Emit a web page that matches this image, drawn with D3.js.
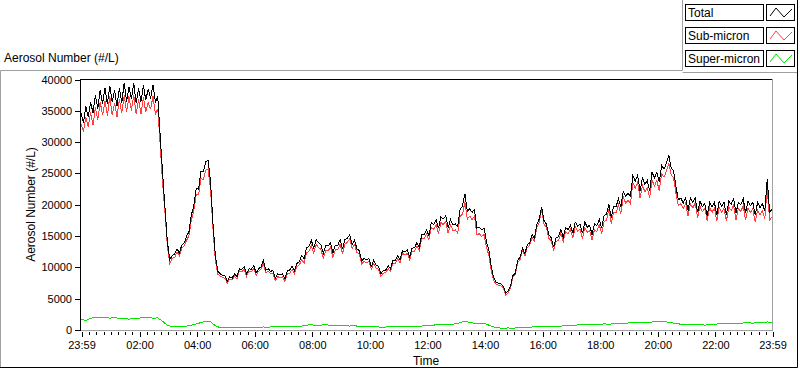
<!DOCTYPE html>
<html>
<head>
<meta charset="utf-8">
<script src="https://cdn.jsdelivr.net/npm/d3@7"></script>
<style>
body { margin: 0; background: #fff; }
svg { display: block; font-family: "Liberation Sans", Arial, sans-serif; }
</style>
</head>
<body>
<script>
//series names and colours for the legend
var seriesNames = ["Total", "Sub-micron", "Super-micron"];
var seriesColors = ["#000000", "#ff4040", "#00e400"];

//sample step (minutes after 23:59) for each series
var totalStep = 5, superStep = 10;

//total aerosol number (#/L), one value every 5 minutes from 23:59
var totalValues = [
  34500,33000,35600,33900,36300,34600,37400,35300,38300,36000,38600,36000,
  38900,36300,38200,35700,38600,36200,39400,36400,38700,36800,39300,36100,
  38500,36400,39000,36600,38400,36900,39100,36300,37200,31000,25000,19500,
  14000,11200,11800,12000,12900,12200,13500,13800,14900,15600,18300,19700,
  22500,22400,25300,25200,26800,27000,23500,17000,11800,9300,8900,8600,
  8600,7700,8400,8200,8900,8400,9700,9600,10000,8900,9700,9600,
  10200,9000,9700,10000,11100,9500,9700,9300,9400,8200,8900,8700,
  8900,8100,9400,9500,10100,9400,10550,10850,11800,11300,13000,13250,
  14250,12950,14350,13850,13550,12150,13450,13350,13850,12250,13450,13450,
  14350,12850,14350,14550,15150,13550,14250,12900,12600,10950,11350,11150,
  11350,10050,11050,10250,10100,8900,9400,9500,10200,9700,11050,11050,
  11750,11150,12600,12400,12700,11600,13000,13050,13850,13150,15100,15100,
  15900,15000,17050,16750,17550,16150,17950,17650,18150,16250,17550,16750,
  16850,16450,19200,19700,21700,18900,19300,18700,19150,16200,16300,15900,
  16200,14000,12600,10000,8300,7600,7400,7300,6950,5750,6150,6950,
  8600,9000,11050,11550,13000,12100,13500,13850,15150,14600,16800,17650,
  19600,17350,16800,15100,14650,13150,14650,14800,16000,14700,16300,15950,
  16650,15350,17150,16550,16850,15350,17150,16350,16650,15150,16850,16550,
  17600,16200,18200,18350,20050,17850,19650,19600,20900,19500,22100,21250,
  21750,21250,24600,23700,24600,22100,24200,23200,23800,22200,25100,24200,
  25100,23500,26200,25600,26600,27800,25800,25300,22700,20700,21000,20200,
  21000,19000,21000,20300,21000,18700,20500,19600,20100,18200,20300,19600,
  20300,18300,20500,19700,20300,18300,20500,20000,20900,18600,20300,19900,
  20900,18600,20500,19800,20300,18300,20300,19500,20100,18900,24000,18700,
  19200
];

//sub-micron aerosol number (#/L), same 5 minute steps
var subValues = [
  32800,31600,33950,32300,34650,32600,35450,33500,36350,34200,36450,34150,
  37250,34250,36200,33900,36800,34550,37400,34700,37200,34950,37500,34400,
  36800,34400,37050,34700,36300,35150,37250,34400,35250,29500,23500,18600,
  13350,10550,11400,11450,12350,11800,12950,13350,14250,15000,17500,18950,
  21500,21500,24100,23950,25450,25600,22300,16100,11100,8800,8550,8300,
  8200,7400,8050,7900,8500,8100,9350,9200,9600,8500,9300,9200,
  9750,8600,9300,9600,10650,9100,9300,8950,8900,7800,8450,8250,
  8400,7700,8950,9000,9550,8900,10050,10300,11200,10600,12250,12450,
  13400,12200,13600,13100,12800,11350,12550,12550,13150,11500,12700,12750,
  13650,12150,13650,13900,14500,12950,13550,12300,12050,10450,10850,10650,
  10900,9600,10550,9800,9650,8500,9000,9050,9700,9250,10600,10550,
  11250,10650,12150,11900,12150,11100,12500,12500,13300,12550,14500,14450,
  15250,14300,16350,16000,16750,15300,17100,16750,17250,15350,16700,15850,
  15900,15400,18050,18400,20350,17600,18100,17550,18100,15150,15300,14850,
  15150,13100,11850,9400,7850,7250,7100,7000,6700,5450,5850,6650,
  8350,8700,10700,11200,12700,11750,13100,13400,14700,14100,16300,17150,
  19150,16850,16250,14550,14150,12600,14100,14200,15400,14050,15650,15250,
  15950,14600,16400,15750,16050,14500,16300,15500,15850,14300,15950,15650,
  16750,15300,17250,17400,19150,16900,18700,18600,19900,18500,21150,20200,
  20650,20100,23450,22550,23500,20950,23000,22000,22650,21000,23850,22900,
  23800,22150,24850,24300,25350,26550,24650,24200,21700,19750,20100,19300,
  20150,18100,20100,19400,20200,17850,19650,18800,19350,17400,19450,18700,
  19400,17350,19550,18700,19300,17300,19550,19000,19850,17550,19300,18850,
  19800,17450,19350,18700,19250,17150,19100,18300,18950,17700,22700,17500,
  18000
];

//super-micron aerosol number (#/L), one value every 10 minutes
var superValues = [
  1600,1450,1800,1900,1850,1950,1800,1950,1700,1800,1650,1750,
  1800,1900,2000,1800,1850,1300,700,450,500,450,550,700,
  900,1100,1300,1250,600,300,350,300,350,300,400,350,
  400,350,400,350,450,400,450,400,500,450,550,700,
  750,650,700,800,650,700,600,650,550,600,500,450,
  400,450,400,350,450,400,450,400,500,450,500,550,
  600,650,750,800,850,800,900,1100,1300,1150,1000,950,
  1000,700,400,250,200,250,200,300,250,350,400,450,
  400,500,450,500,550,600,650,700,750,800,750,850,
  800,900,850,900,950,900,1050,1100,1050,1150,1100,1200,
  1250,1300,1200,1100,950,850,800,850,750,800,700,800,
  850,900,950,900,1000,950,1050,1100,1000,1150,1100,1200,
  1150
];

//axis ticks
var yTicks = [0, 5000, 10000, 15000, 20000, 25000, 30000, 35000, 40000];
var xMajorTicks = [0, 121, 241, 361, 481, 601, 721, 841, 961, 1081, 1201, 1321, 1440];
var xTickLabels = ["23:59", "02:00", "04:00", "06:00", "08:00", "10:00", "12:00",
                   "14:00", "16:00", "18:00", "20:00", "22:00", "23:59"];

window.onload = drawChart();

function drawChart(){

    var width = 800,
        height = 369;

    var svg = d3.select("body")
        .append("svg")
        .attr("width", width)
        .attr("height", height);

    svg.append("rect")
        .attr("width", width)
        .attr("height", height)
        .attr("fill", "#fff");

    var x = d3.scaleLinear().domain([0, 1440]).range([81, 772]);
    var y = d3.scaleLinear().domain([0, 40000]).range([329.5, 79]);

    //outer panel frame
    svg.append("path")
        .attr("d", "M0.5,367 V70.5 H682.5 V0")
        .attr("fill", "none").attr("stroke", "#a0a0a0");
    svg.append("path")
        .attr("d", "M682.5,72.5 H797")
        .attr("fill", "none").attr("stroke", "#a0a0a0");
    svg.append("path")
        .attr("d", "M0,367.5 H797.5 V0")
        .attr("fill", "none").attr("stroke", "#000");

    //title above the chart
    svg.append("text")
        .attr("x", 4).attr("y", 62)
        .attr("font-size", 12)
        .text("Aerosol Number (#/L)");

    //plot data
    var line = d3.line()
        .x(function(d){ return x(d[0]); })
        .y(function(d){ return y(d[1]); });

    var subData = subValues.map(function(v, i){ return [i * totalStep, v]; });
    var totalData = totalValues.map(function(v, i){ return [i * totalStep, v]; });
    var superData = superValues.map(function(v, i){ return [i * superStep, v]; });

    var plot = svg.append("g");
    [[subData, seriesColors[1]], [totalData, seriesColors[0]], [superData, seriesColors[2]]]
        .forEach(function(s){
            plot.append("path")
                .datum(s[0])
                .attr("fill", "none")
                .attr("stroke", s[1])
                .attr("stroke-width", 1)
                .attr("shape-rendering", "crispEdges")
                .attr("d", line);
        });

    //plot border: top/left dark, bottom/right grey
    svg.append("path")
        .attr("d", "M772,330.5 H80.5 V79.5 H772")
        .attr("fill", "none").attr("stroke", "#000")
        .attr("shape-rendering", "crispEdges");
    svg.append("path")
        .attr("d", "M81,330.5 H772.5 V79")
        .attr("fill", "none").attr("stroke", "#a0a0a0")
        .attr("shape-rendering", "crispEdges");

    //y axis
    var yAxis = svg.append("g")
        .attr("transform", "translate(80,0.5)")
        .attr("shape-rendering", "crispEdges")
        .call(d3.axisLeft(y).tickValues(yTicks).tickSize(5).tickPadding(3)
            .tickFormat(d3.format("d")));
    yAxis.select(".domain").remove();
    yAxis.selectAll("text").attr("font-size", 11).attr("fill", "#000")
        .attr("font-family", "Liberation Sans, Arial, sans-serif");

    //x axis minor ticks every 15 minutes
    var minorTicks = d3.range(15, 1440, 15)
        .filter(function(c){ return c % 120 != 0; })
        .map(function(c){ return c + 1; });
    var xMinor = svg.append("g")
        .attr("transform", "translate(0.5,332)")
        .attr("shape-rendering", "crispEdges")
        .call(d3.axisBottom(x).tickValues(minorTicks).tickSize(3).tickFormat(""));
    xMinor.select(".domain").remove();

    var xAxis = svg.append("g")
        .attr("transform", "translate(0.5,332)")
        .attr("shape-rendering", "crispEdges")
        .call(d3.axisBottom(x).tickValues(xMajorTicks).tickSize(5).tickPadding(4)
            .tickFormat(function(d, i){ return xTickLabels[i]; }));
    xAxis.select(".domain").remove();
    xAxis.selectAll("text").attr("font-size", 11).attr("fill", "#000")
        .attr("font-family", "Liberation Sans, Arial, sans-serif");

    //axis titles
    svg.append("text")
        .attr("transform", "translate(35,204.5) rotate(-90)")
        .attr("text-anchor", "middle")
        .attr("font-size", 12)
        .text("Aerosol Number (#/L)");

    svg.append("text")
        .attr("x", 426).attr("y", 365)
        .attr("text-anchor", "middle")
        .attr("font-size", 12)
        .text("Time");

    //legend
    var zig = d3.line()([[3, 12], [9, 4], [17, 13], [25, 5]]);
    var legend = svg.selectAll(".legend")
        .data(seriesNames)
        .enter()
        .append("g")
        .attr("class", "legend")
        .attr("transform", function(d, i){ return "translate(685," + (4 + i * 23) + ")"; });

    legend.append("rect")
        .attr("x", 0.5).attr("y", 0.5)
        .attr("width", 78).attr("height", 16)
        .attr("fill", "#fff").attr("stroke", "#000");
    legend.append("text")
        .attr("x", 3).attr("y", 13)
        .attr("font-size", 12)
        .text(function(d){ return d; });
    legend.append("rect")
        .attr("x", 81.5).attr("y", 0.5)
        .attr("width", 28).attr("height", 16)
        .attr("fill", "#fff").attr("stroke", "#000");
    legend.append("path")
        .attr("transform", "translate(82,0)")
        .attr("d", zig)
        .attr("fill", "none")
        .attr("stroke", function(d, i){ return seriesColors[i]; });
}
</script>
</body>
</html>
